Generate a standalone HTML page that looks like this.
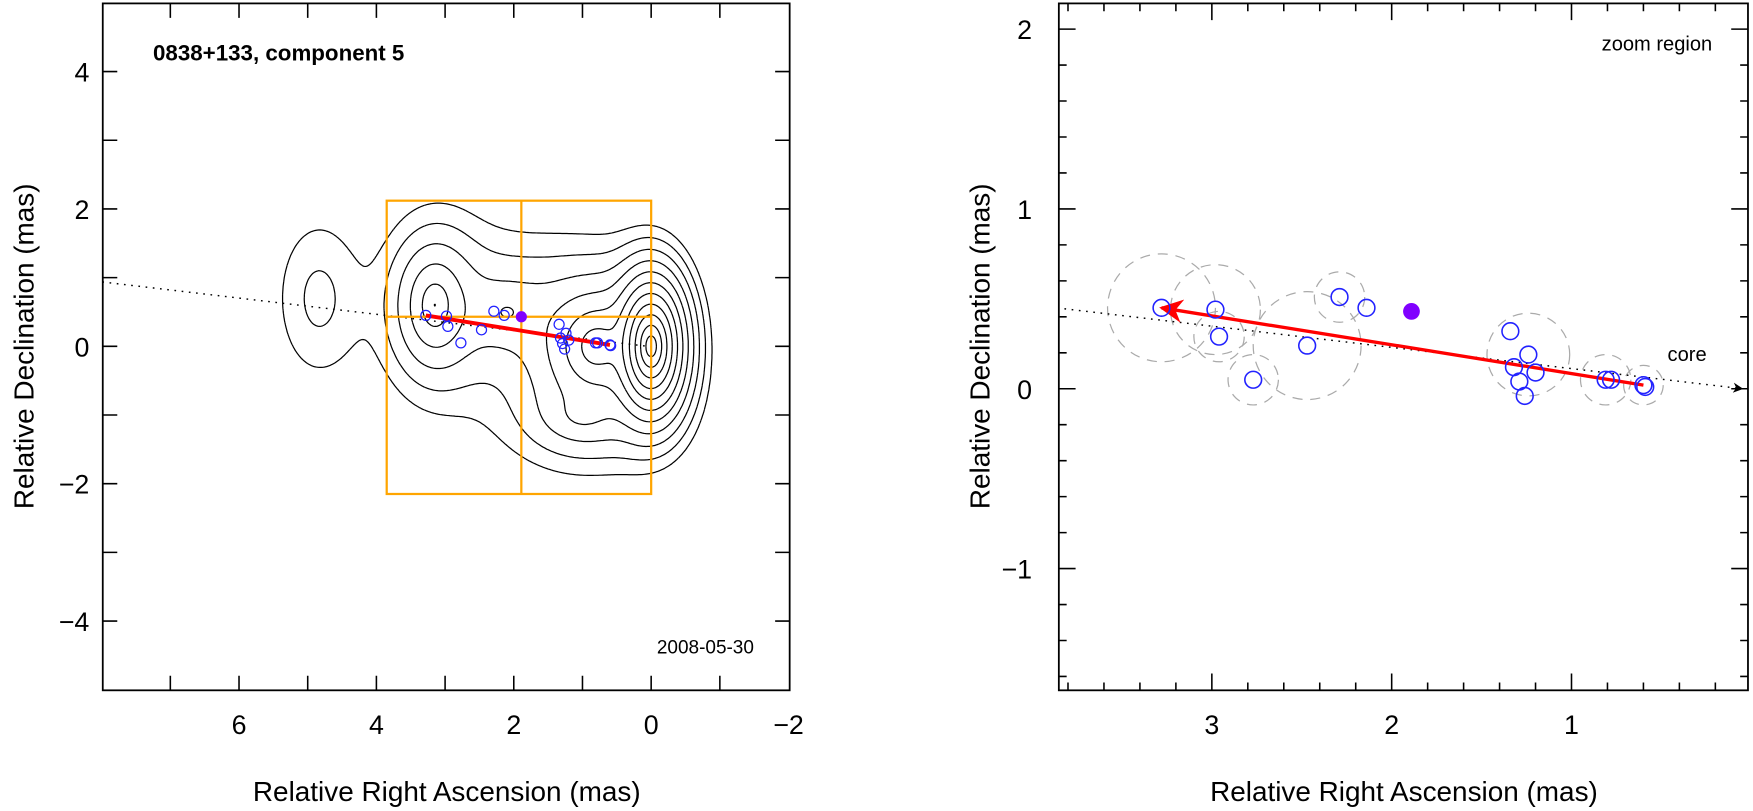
<!DOCTYPE html>
<html><head><meta charset="utf-8"><style>
html,body{margin:0;padding:0;background:#fff;}
svg{display:block;}
text{font-family:"Liberation Sans",sans-serif;fill:#000;}
</style></head><body>
<svg id="chart" width="1753" height="811" viewBox="0 0 1569.5 726" xmlns="http://www.w3.org/2000/svg">
<defs>
<clipPath id="clipL"><rect x="92" y="3" width="615" height="615"/></clipPath>
<clipPath id="clipR"><rect x="948" y="3" width="617" height="615"/></clipPath>
<marker id="redHead" viewBox="0 0 10 10" refX="9" refY="5" markerWidth="7" markerHeight="7" orient="auto-start-reverse"><path d="M0,0 L10,5 L0,10 L3,5 z" fill="#f00"/></marker>
<marker id="blkHead" viewBox="0 0 10 10" refX="9" refY="5" markerWidth="7" markerHeight="7" orient="auto"><path d="M0,0 L10,5 L0,10 L3,5 z" fill="#000"/></marker>
</defs>
<g id="left">
  <g id="contours" clip-path="url(#clipL)"></g>
  <g id="leftMarks" clip-path="url(#clipL)"></g>
  <rect x="92" y="3" width="615" height="615" fill="none" stroke="#000" stroke-width="1.6"/>
  <g id="leftTicks"></g>
  <text x="137" y="54" font-size="20" font-weight="bold">0838+133, component 5</text>
  <text x="675" y="585" font-size="17" text-anchor="end" fill="#222">2008-05-30</text>
  <text x="400" y="717" font-size="25" text-anchor="middle">Relative Right Ascension (mas)</text>
  <text transform="translate(30,310) rotate(-90)" font-size="25" text-anchor="middle">Relative Declination (mas)</text>
</g>
<g id="right">
  <g id="rightMarks" clip-path="url(#clipR)"></g>
  <rect x="948" y="3" width="617" height="615" fill="none" stroke="#000" stroke-width="1.6"/>
  <g id="rightTicks"></g>
  <text x="1533" y="45" font-size="18" text-anchor="end" fill="#222">zoom region</text>
  <text x="1493" y="323" font-size="18" fill="#222">core</text>
  <text x="1257" y="717" font-size="25" text-anchor="middle">Relative Right Ascension (mas)</text>
  <text transform="translate(886,310) rotate(-90)" font-size="25" text-anchor="middle">Relative Declination (mas)</text>
</g>
</svg>
<script>
// ---- data ----
const compX = [3.28,2.98,2.96,2.77,2.47,2.29,2.14,1.34,1.32,1.29,1.26,1.20,1.24,0.81,0.78,0.60,0.59];
const compY = [0.45,0.44,0.29,0.05,0.24,0.51,0.45,0.32,0.12,0.04,-0.04,0.09,0.19,0.05,0.05,0.02,0.01];
const errX = [3.28,2.98,2.96,2.77,2.47,2.29,1.24,0.81,0.60];
const errY = [0.45,0.44,0.29,0.05,0.24,0.51,0.19,0.05,0.02];
const errR = [0.30,0.25,0.14,0.14,0.30,0.14,0.23,0.14,0.11];
const meanPos = [1.89,0.43];
const arrowFrom = [0.60,0.02];
const arrowTo = [3.28,0.45];
const axisSlope = 0.118, axisIntercept = -0.006;
const zoomBox = [3.85,0.0,2.12,-2.15];
const leftXTicks = [7,6,5,4,3,2,1,0,-1];
const leftXLabels = [6,4,2,0,-2];
const leftYTicks = [4,3,2,1,0,-1,-2,-3,-4];
const leftYLabels = [4,2,0,-2,-4];
const rightXLabels = [3,2,1];
const rightYLabels = [2,1,0,-1];
// brightness model components: x, y, amplitude, scaleX, scaleY, profile power
const srcX = [0.0, 0.8, 1.0, 3.15, 2.1, 4.85];
const srcY = [0.0, 0.0, -1.0, 0.6, 0.5, 0.7];
const srcA = [1.0, 0.03, 0.004, 0.0156, 0.0039, 0.00107];
const srcSX = [0.11, 0.3, 0.5, 0.24, 0.6, 0.57];
const srcSY = [0.22, 0.35, 0.35, 0.4, 0.5, 1.08];
const srcP = [1, 1, 1, 1, 1, 2];
const levelBase = 0.00049, levelCount = 12;

const NS = "http://www.w3.org/2000/svg";
const xL = v => 583 - 61.5*v, yL = v => 310 - 61.5*v;
const xR = v => 1568 - 161*v, yR = v => 348 - 161*v;
function mk(parent, tag, attrs){ const e=document.createElementNS(NS,tag); for(const k in attrs) e.setAttribute(k,attrs[k]); parent.appendChild(e); return e; }

// ---- contours ----
const cg = document.getElementById('contours');
function I(x,y){ let s=0; for(let i=0;i<srcX.length;i++){ const dx=(x-srcX[i])/srcSX[i], dy=(y-srcY[i])/srcSY[i]; const r=Math.sqrt(dx*dx+dy*dy); s+=srcA[i]*Math.exp(-Math.pow(r,srcP[i])); } return s; }
const x0=-1.4,x1=6.2,y0=-2.8,y1=2.6,st=0.025;
const nx=Math.round((x1-x0)/st), ny=Math.round((y1-y0)/st);
const G=[]; for(let j=0;j<=ny;j++){ const row=[]; for(let i=0;i<=nx;i++) row.push(I(x0+i*st,y0+j*st)); G.push(row); }
for(let k=0;k<levelCount;k++){
  const L=levelBase*Math.pow(2,k); let d="";
  for(let j=0;j<ny;j++) for(let i=0;i<nx;i++){
    const a=G[j][i],b=G[j][i+1],c=G[j+1][i+1],e=G[j+1][i];
    const pts=[];
    const X=i*st+x0, Y=j*st+y0;
    if((a>L)!==(b>L)) pts.push([X+st*(L-a)/(b-a),Y]);
    if((b>L)!==(c>L)) pts.push([X+st,Y+st*(L-b)/(c-b)]);
    if((e>L)!==(c>L)) pts.push([X+st*(L-e)/(c-e),Y+st]);
    if((a>L)!==(e>L)) pts.push([X,Y+st*(L-a)/(e-a)]);
    for(let p=0;p+1<pts.length;p+=2) d+="M"+xL(pts[p][0]).toFixed(1)+","+yL(pts[p][1]).toFixed(1)+"L"+xL(pts[p+1][0]).toFixed(1)+","+yL(pts[p+1][1]).toFixed(1);
  }
  const path=mk(cg,'path',{d:d,fill:'none',stroke:'#000','stroke-width':1.1});
  
  
}

// ---- left marks ----
const lm=document.getElementById('leftMarks');
let e;
e=mk(lm,'line',{x1:xL(8.2),y1:yL(axisSlope*8.2+axisIntercept),x2:xL(0),y2:yL(axisIntercept),stroke:'#000','stroke-width':1.3,'stroke-dasharray':'1.5 5'});
 
e=mk(lm,'rect',{x:xL(zoomBox[0]),y:yL(zoomBox[2]),width:xL(zoomBox[1])-xL(zoomBox[0]),height:yL(zoomBox[3])-yL(zoomBox[2]),fill:'none',stroke:'#FFA500','stroke-width':2});
 
e=mk(lm,'line',{x1:xL(meanPos[0]),y1:yL(zoomBox[2]),x2:xL(meanPos[0]),y2:yL(zoomBox[3]),stroke:'#FFA500','stroke-width':2});
 
e=mk(lm,'line',{x1:xL(zoomBox[0]),y1:yL(meanPos[1]),x2:xL(zoomBox[1]),y2:yL(meanPos[1]),stroke:'#FFA500','stroke-width':2});
 
e=mk(lm,'line',{x1:xL(arrowFrom[0]),y1:yL(arrowFrom[1]),x2:xL(arrowTo[0]),y2:yL(arrowTo[1]),stroke:'#f00','stroke-width':3.5});
 
for(let i=0;i<compX.length;i++){
  e=mk(lm,'circle',{cx:xL(compX[i]),cy:yL(compY[i]),r:4.5,fill:'none',stroke:'#22f','stroke-width':1.1});
   
}
e=mk(lm,'circle',{cx:xL(meanPos[0]),cy:yL(meanPos[1]),r:5,fill:'#8000ff'});
 

// ---- right marks ----
const rm=document.getElementById('rightMarks');
for(let i=0;i<errX.length;i++){
  e=mk(rm,'circle',{cx:xR(errX[i]),cy:yR(errY[i]),r:errR[i]*161,fill:'none',stroke:'#aaa','stroke-width':1.1,'stroke-dasharray':'9 7'});
   
}
e=mk(rm,'line',{x1:xR(3.9),y1:yR(axisSlope*3.9+axisIntercept),x2:xR(0.05),y2:yR(axisSlope*0.05+axisIntercept),stroke:'#000','stroke-width':1.3,'stroke-dasharray':'1.5 5','marker-end':'url(#blkHead)'});
 
e=mk(rm,'line',{x1:xR(arrowFrom[0]),y1:yR(arrowFrom[1]),x2:xR(arrowTo[0]),y2:yR(arrowTo[1]),stroke:'#f00','stroke-width':3,'marker-end':'url(#redHead)'});
 
for(let i=0;i<compX.length;i++){
  e=mk(rm,'circle',{cx:xR(compX[i]),cy:yR(compY[i]),r:7.5,fill:'none',stroke:'#22f','stroke-width':1.4});
   
}
e=mk(rm,'circle',{cx:xR(meanPos[0]),cy:yR(meanPos[1]),r:7.5,fill:'#8000ff'});
 

// ---- ticks ----
const lt=document.getElementById('leftTicks');
for(const v of leftXTicks){
  const x=xL(v);
  e=mk(lt,'path',{d:`M${x},618v-13M${x},3v13`,stroke:'#000','stroke-width':1.4});  
}
for(const v of leftYTicks){
  const y=yL(v);
  e=mk(lt,'path',{d:`M92,${y}h13M707,${y}h-13`,stroke:'#000','stroke-width':1.4});  
}
for(const v of leftXLabels){
  e=mk(lt,'text',{x:xL(v),y:657,'font-size':24,'text-anchor':'middle'}); e.textContent=(v<0?'\u2212':'')+Math.abs(v);
   
}
for(const v of leftYLabels){
  e=mk(lt,'text',{x:80,y:yL(v)+9,'font-size':24,'text-anchor':'end'}); e.textContent=(v<0?'\u2212':'')+Math.abs(v);
   
}
const rt=document.getElementById('rightTicks');
for(let n=1;n<=19;n++){
  const v=n*0.2, x=xR(v); if(x<948) continue;
  const len = (n%5===0)?15:7;
  e=mk(rt,'path',{d:`M${x},618v-${len}M${x},3v${len}`,stroke:'#000','stroke-width':1.4});  
}
for(let n=-8;n<=10;n++){
  const v=n*0.2, y=yR(v); if(y<3||y>618) continue;
  const len = (n%5===0)?15:7;
  e=mk(rt,'path',{d:`M948,${y}h${len}M1565,${y}h-${len}`,stroke:'#000','stroke-width':1.4});  
}
for(const v of rightXLabels){
  e=mk(rt,'text',{x:xR(v),y:657,'font-size':24,'text-anchor':'middle'}); e.textContent=String(v);
   
}
for(const v of rightYLabels){
  e=mk(rt,'text',{x:924,y:yR(v)+9,'font-size':24,'text-anchor':'end'}); e.textContent=(v<0?'\u2212':'')+Math.abs(v);
   
}
</script>
</body></html>
